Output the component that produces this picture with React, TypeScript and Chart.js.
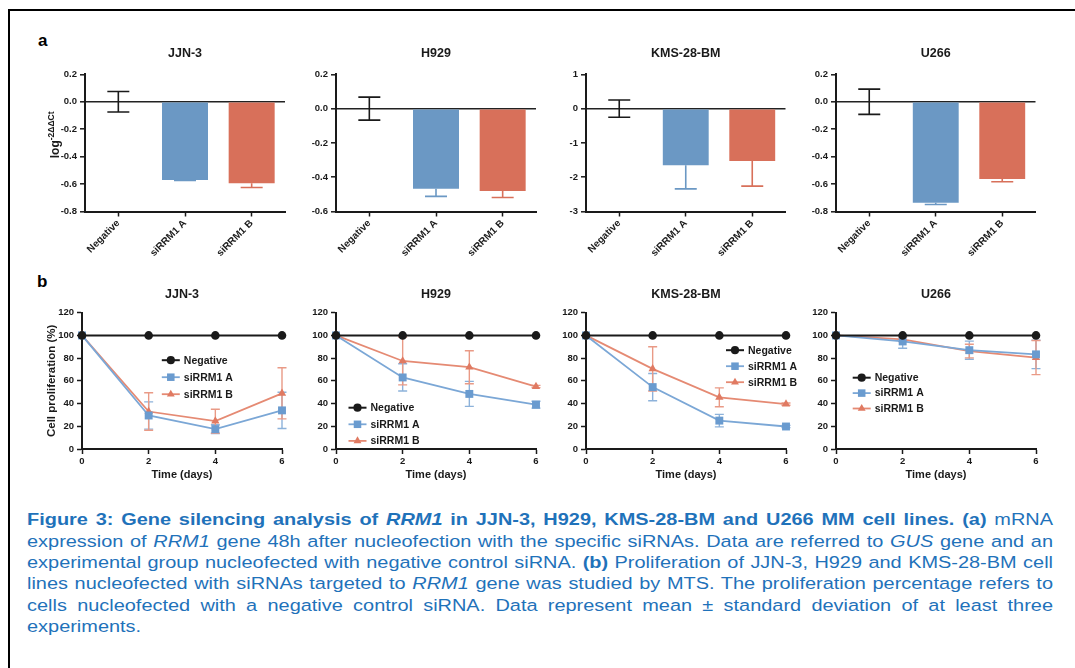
import React, { useEffect, useRef } from 'react';
import { Chart, registerables } from 'chart.js';

Chart.register(...registerables);

const FONT = '"Liberation Sans", Arial, Helvetica, sans-serif';
const INK = '#1a1a1a';
Chart.defaults.font.family = FONT;
Chart.defaults.color = INK;

// ---------------- data ----------------
const cellLines = ['JJN-3', 'H929', 'KMS-28-BM', 'U266'];
const barCategories = ['Negative', 'siRRM1 A', 'siRRM1 B'];
const seriesNames = ['Negative', 'siRRM1 A', 'siRRM1 B'];

// (a) mRNA expression, log -2ΔΔCt (mean, SD)
const mrnaJJN3 = [0, -0.57, -0.595];
const mrnaJJN3Sd = [0.075, 0.003, 0.03];
const mrnaH929 = [0, -0.467, -0.48];
const mrnaH929Sd = [0.067, 0.045, 0.038];
const mrnaKMS = [0, -1.65, -1.53];
const mrnaKMSSd = [0.25, 0.69, 0.73];
const mrnaU266 = [0, -0.737, -0.563];
const mrnaU266Sd = [0.092, 0.012, 0.02];

const mrnaYMin = [-0.8, -0.6, -3, -0.8];
const mrnaYMax = [0.2, 0.2, 1, 0.2];
const mrnaYStep = [0.2, 0.2, 1, 0.2];
const mrnaTickDecimals = [1, 1, 0, 1];

// (b) cell proliferation (%) over days (mean, SD)
const days = [0, 2, 4, 6];
const prolifNegative = [100, 100, 100, 100];
const prolifNegativeSd = [0, 0, 0, 0];

const prolifJJN3A = [100, 29.5, 17.5, 34];
const prolifJJN3ASd = [0, 12, 3.8, 16];
const prolifJJN3B = [100, 33, 24.5, 49];
const prolifJJN3BSd = [0, 16.5, 10.5, 22.5];

const prolifH929A = [100, 63, 48.5, 39];
const prolifH929ASd = [0, 12, 11, 3];
const prolifH929B = [100, 77.5, 72, 55];
const prolifH929BSd = [0, 21, 14.5, 1];

const prolifKMSA = [100, 54.5, 25, 19.8];
const prolifKMSASd = [0, 12, 5.5, 1];
const prolifKMSB = [100, 70.5, 45.5, 39.5];
const prolifKMSBSd = [0, 19.5, 8.3, 1];

const prolifU266A = [100, 94.7, 87, 83.3];
const prolifU266ASd = [0, 6, 8, 12.5];
const prolifU266B = [100, 96.5, 86.2, 80.5];
const prolifU266BSd = [0, 2, 6, 15];

const prolifYMin = 0;
const prolifYMax = 120;
const prolifYStep = 20;
const dayStep = 2;

const mrnaValues = [mrnaJJN3, mrnaH929, mrnaKMS, mrnaU266];
const mrnaSds = [mrnaJJN3Sd, mrnaH929Sd, mrnaKMSSd, mrnaU266Sd];
const prolifA = [prolifJJN3A, prolifH929A, prolifKMSA, prolifU266A];
const prolifASd = [prolifJJN3ASd, prolifH929ASd, prolifKMSASd, prolifU266ASd];
const prolifB = [prolifJJN3B, prolifH929B, prolifKMSB, prolifU266B];
const prolifBSd = [prolifJJN3BSd, prolifH929BSd, prolifKMSBSd, prolifU266BSd];

// ---------------- styles & layout ----------------
const BLUE_BAR = '#6b98c4';
const RED_BAR = '#d8705a';
const BLUE_MARK = '#6a9bcf';
const BLUE_LINE = '#7ba7d6';
const BLUE_ERR = '#8db2da';
const RED_MARK = '#e07a62';
const RED_LINE = '#e58a73';
const RED_ERR = '#e99a86';
const CAPTION = '#1f72ba';

type Box = { x: number; y: number; w: number; h: number };
type Area = { l: number; r: number; t: number; b: number };

// canvases overlap slightly (they are transparent) so legends/labels never clip
const colX = [14, 296, 547, 797];
const colW = [300, 270, 280, 270];
const barBoxes: Box[] = colX.map((x, i) => ({ x, y: 28, w: colW[i], h: 240 }));
const lineBoxes: Box[] = colX.map((x, i) => ({ x, y: 278, w: colW[i], h: 212 }));
const barAreas: Area[] = [
  { l: 85, r: 285, t: 74.3, b: 211.5 },
  { l: 336, r: 536, t: 74.3, b: 211.5 },
  { l: 586, r: 785.5, t: 74.3, b: 211.5 },
  { l: 836, r: 1035.5, t: 74.3, b: 211.5 },
];
const lineAreas: Area[] = [
  { l: 82, r: 282, t: 312.7, b: 449 },
  { l: 336, r: 536, t: 312.7, b: 449 },
  { l: 586, r: 786, t: 312.7, b: 449 },
  { l: 836, r: 1036, t: 312.7, b: 449 },
];
const legendPos = [
  { x: 88.8, y: 47.5, gap: 17 },
  { x: 21.5, y: 95, gap: 16.6 },
  { x: 149, y: 37.5, gap: 16 },
  { x: 25.7, y: 65, gap: 15.4 },
];

// ---------------- plugins ----------------
function drawMarker(ctx: CanvasRenderingContext2D, style: string, x: number, y: number, r: number, color: string) {
  ctx.fillStyle = color;
  ctx.beginPath();
  if (style === 'circle') {
    ctx.arc(x, y, r, 0, Math.PI * 2);
  } else if (style === 'rect') {
    const s = r * Math.SQRT1_2;
    ctx.rect(x - s, y - s, 2 * s, 2 * s);
  } else {
    ctx.moveTo(x, y - r);
    ctx.lineTo(x + r * 0.866, y + r * 0.5);
    ctx.lineTo(x - r * 0.866, y + r * 0.5);
  }
  ctx.closePath();
  ctx.fill();
}

function errorBarPlugin(kind: 'bar' | 'line') {
  const draw = (chart: any) => {
    const { ctx } = chart;
    const yScale = chart.scales.y;
    const cap = kind === 'bar' ? 11 : 4.5;
    ctx.save();
    ctx.lineWidth = kind === 'bar' ? 1.6 : 1.4;
    chart.data.datasets.forEach((ds: any, di: number) => {
      const meta = chart.getDatasetMeta(di);
      meta.data.forEach((el: any, j: number) => {
        const sd = ds.sd ? ds.sd[j] : 0;
        if (!sd) return;
        const raw = ds.data[j];
        const v = typeof raw === 'number' ? raw : raw.y;
        const color = Array.isArray(ds.errColor) ? ds.errColor[j] : ds.errColor;
        const twoSided = kind === 'line' || v === 0;
        let y1: number;
        let y2: number;
        if (twoSided) {
          y1 = yScale.getPixelForValue(v + sd);
          y2 = yScale.getPixelForValue(v - sd);
        } else {
          y1 = yScale.getPixelForValue(v);
          y2 = yScale.getPixelForValue(v + Math.sign(v) * sd);
        }
        const x = el.x;
        ctx.strokeStyle = color;
        ctx.beginPath();
        ctx.moveTo(x, y1);
        ctx.lineTo(x, y2);
        if (twoSided) {
          ctx.moveTo(x - cap, y1);
          ctx.lineTo(x + cap, y1);
        }
        ctx.moveTo(x - cap, y2);
        ctx.lineTo(x + cap, y2);
        ctx.stroke();
      });
    });
    ctx.restore();
  };
  return kind === 'bar'
    ? { id: 'errbars', afterDatasetsDraw: draw }
    : { id: 'errbars', beforeDatasetsDraw: draw };
}

type DecorOpts = {
  title: string;
  titleDy: number;
  xTitle?: string;
  xTitleDy?: number;
  yTitle?: string;
  yTitleSup?: string;
  yTitleDx?: number;
  yTitleDy?: number;
  legend?: { x: number; y: number; gap: number };
};

function decorPlugin(o: DecorOpts) {
  return {
    id: 'decor',
    afterDraw(chart: any) {
      const { ctx, chartArea: a } = chart;
      const cx = (a.left + a.right) / 2;
      ctx.save();
      ctx.fillStyle = INK;
      ctx.textAlign = 'center';
      ctx.textBaseline = 'middle';
      ctx.font = `bold 12.5px ${FONT}`;
      ctx.fillText(o.title, cx, a.top - o.titleDy);
      if (o.xTitle) {
        ctx.font = `bold 11px ${FONT}`;
        ctx.fillText(o.xTitle, cx, a.bottom + (o.xTitleDy || 0));
      }
      if (o.yTitle) {
        ctx.save();
        ctx.translate(a.left + (o.yTitleDx || 0), (a.top + a.bottom) / 2 + (o.yTitleDy || 0));
        ctx.rotate(-Math.PI / 2);
        if (o.yTitleSup) {
          ctx.textAlign = 'left';
          ctx.textBaseline = 'alphabetic';
          ctx.font = `bold 12px ${FONT}`;
          const w1 = ctx.measureText(o.yTitle).width;
          ctx.font = `bold 8.5px ${FONT}`;
          const w2 = ctx.measureText(o.yTitleSup).width;
          const x0 = -(w1 + w2) / 2;
          ctx.font = `bold 12px ${FONT}`;
          ctx.fillText(o.yTitle, x0, 4);
          ctx.font = `bold 8.5px ${FONT}`;
          ctx.fillText(o.yTitleSup, x0 + w1, -1);
        } else {
          ctx.font = `bold 11.5px ${FONT}`;
          ctx.fillText(o.yTitle, 0, 0);
        }
        ctx.restore();
      }
      if (o.legend) {
        const lg = o.legend;
        chart.data.datasets.forEach((ds: any, i: number) => {
          const y = a.top + lg.y + i * lg.gap;
          const mx = a.left + lg.x;
          ctx.strokeStyle = ds.borderColor;
          ctx.lineWidth = ds.borderWidth;
          ctx.beginPath();
          ctx.moveTo(mx - 9, y);
          ctx.lineTo(mx + 9, y);
          ctx.stroke();
          drawMarker(ctx, ds.pointStyle, mx, y, ds.pointRadius * 0.95, ds.pointBackgroundColor);
          ctx.fillStyle = INK;
          ctx.font = `bold 10.5px ${FONT}`;
          ctx.textAlign = 'left';
          ctx.textBaseline = 'middle';
          ctx.fillText(ds.label, mx + 13, y + 0.5);
        });
      }
      ctx.restore();
    },
  };
}

// ---------------- configs ----------------
const tickFont = { family: FONT, size: 9.5, weight: 'bold' as const };

function barConfig(i: number): any {
  const bx = barBoxes[i];
  const ar = barAreas[i];
  const dec = mrnaTickDecimals[i];
  return {
    type: 'bar',
    data: {
      labels: barCategories,
      datasets: [
        {
          data: mrnaValues[i],
          sd: mrnaSds[i],
          errColor: [INK, BLUE_BAR, RED_BAR],
          backgroundColor: ['rgba(0,0,0,0)', BLUE_BAR, RED_BAR],
          borderWidth: 0,
          barPercentage: 0.69,
          categoryPercentage: 1,
        },
      ],
    },
    options: {
      responsive: false,
      animation: false,
      events: [],
      layout: { padding: { top: ar.t - bx.y, right: bx.x + bx.w - ar.r, left: 0, bottom: 0 } },
      plugins: { legend: { display: false }, tooltip: { enabled: false }, title: { display: false } },
      scales: {
        x: {
          type: 'category',
          offset: true,
          grid: { display: true, drawOnChartArea: false, offset: false, tickLength: 5, tickColor: INK, tickWidth: 1.5 },
          border: { display: true, color: INK, width: 2 },
          ticks: { minRotation: 45, maxRotation: 45, autoSkip: false, color: INK, font: { family: FONT, size: 10, weight: 'bold' }, padding: 1 },
          afterFit: (s: any) => {
            s.height = bx.y + bx.h - ar.b;
          },
        },
        y: {
          min: mrnaYMin[i],
          max: mrnaYMax[i],
          ticks: {
            stepSize: mrnaYStep[i],
            color: INK,
            font: tickFont,
            padding: 3,
            callback: (v: any) => Number(v).toFixed(dec),
          },
          grid: {
            color: (c: any) => (c.tick && Math.abs(c.tick.value) < 1e-9 ? '#222' : 'rgba(0,0,0,0)'),
            lineWidth: 1.6,
            tickColor: INK,
            tickLength: 5,
            tickWidth: 1.5,
          },
          border: { display: true, color: INK, width: 2 },
          afterFit: (s: any) => {
            s.width = ar.l - bx.x;
          },
        },
      },
    },
    plugins: [
      errorBarPlugin('bar'),
      decorPlugin({
        title: cellLines[i],
        titleDy: 21,
        yTitle: i === 0 ? 'log' : undefined,
        yTitleSup: i === 0 ? '-2ΔΔCt' : undefined,
        yTitleDx: -30,
        yTitleDy: -8,
      }),
    ],
  };
}

function lineConfig(i: number): any {
  const bx = lineBoxes[i];
  const ar = lineAreas[i];
  const mk = (vals: number[]) => days.map((d, k) => ({ x: d, y: vals[k] }));
  const series = [
    { vals: prolifNegative, sd: prolifNegativeSd, mark: INK, line: INK, err: INK, style: 'circle', r: 4.3, bw: 2 },
    { vals: prolifA[i], sd: prolifASd[i], mark: BLUE_MARK, line: BLUE_LINE, err: BLUE_ERR, style: 'rect', r: 5.6, bw: 1.8 },
    { vals: prolifB[i], sd: prolifBSd[i], mark: RED_MARK, line: RED_LINE, err: RED_ERR, style: 'triangle', r: 4.8, bw: 1.8 },
  ];
  return {
    type: 'line',
    data: {
      datasets: series.map((s, k) => ({
        label: seriesNames[k],
        data: mk(s.vals),
        sd: s.sd,
        errColor: s.err,
        borderColor: s.line,
        backgroundColor: s.mark,
        pointBackgroundColor: s.mark,
        pointBorderColor: s.mark,
        pointBorderWidth: 0,
        pointStyle: s.style,
        pointRadius: s.r,
        borderWidth: s.bw,
        tension: 0,
        clip: false,
      })),
    },
    options: {
      responsive: false,
      animation: false,
      events: [],
      layout: { padding: { top: ar.t - bx.y, right: bx.x + bx.w - ar.r, left: 0, bottom: 0 } },
      plugins: { legend: { display: false }, tooltip: { enabled: false }, title: { display: false } },
      scales: {
        x: {
          type: 'linear',
          min: days[0],
          max: days[days.length - 1],
          ticks: { stepSize: dayStep, color: INK, font: tickFont, padding: 2 },
          grid: { display: true, drawOnChartArea: false, tickLength: 5, tickColor: INK, tickWidth: 1.5 },
          border: { display: true, color: INK, width: 2 },
          afterFit: (s: any) => {
            s.height = bx.y + bx.h - ar.b;
          },
        },
        y: {
          min: prolifYMin,
          max: prolifYMax,
          ticks: { stepSize: prolifYStep, color: INK, font: tickFont, padding: 3 },
          grid: { display: true, drawOnChartArea: false, tickLength: 5, tickColor: INK, tickWidth: 1.5 },
          border: { display: true, color: INK, width: 2 },
          afterFit: (s: any) => {
            s.width = ar.l - bx.x;
          },
        },
      },
    },
    plugins: [
      errorBarPlugin('line'),
      decorPlugin({
        title: cellLines[i],
        titleDy: 18,
        xTitle: 'Time (days)',
        xTitleDy: 26,
        yTitle: i === 0 ? 'Cell proliferation (%)' : undefined,
        yTitleDx: -30,
        yTitleDy: 0,
        legend: legendPos[i],
      }),
    ],
  };
}

// ---------------- components ----------------
function ChartCanvas({ box, build }: { box: Box; build: () => any }) {
  const ref = useRef<HTMLCanvasElement>(null);
  useEffect(() => {
    if (!ref.current) return;
    const chart = new Chart(ref.current, build());
    return () => chart.destroy();
  }, []);
  return (
    <canvas
      ref={ref}
      width={box.w}
      height={box.h}
      style={{ position: 'absolute', left: box.x, top: box.y, width: box.w, height: box.h }}
    />
  );
}

const captionLines: React.ReactNode[] = [
  <>
    <b>
      Figure 3: Gene silencing analysis of <i>RRM1</i> in JJN-3, H929, KMS-28-BM and U266 MM cell lines. (a)
    </b>{' '}
    mRNA
  </>,
  <>
    expression of <i>RRM1</i> gene 48h after nucleofection with the specific siRNAs. Data are referred to <i>GUS</i> gene and an
  </>,
  <>
    experimental group nucleofected with negative control siRNA. <b>(b)</b> Proliferation of JJN-3, H929 and KMS-28-BM cell
  </>,
  <>
    lines nucleofected with siRNAs targeted to <i>RRM1</i> gene was studied by MTS. The proliferation percentage refers to
  </>,
  <>cells nucleofected with a negative control siRNA. Data represent mean ± standard deviation of at least three</>,
  <>experiments.</>,
];

const CAP_SX = 1.18;
const CAP_LEFT = 27;
const CAP_RIGHT = 1053;

export default function App() {
  return (
    <div
      style={{
        position: 'absolute',
        left: 0,
        top: 0,
        width: 1075,
        height: 668,
        background: '#fff',
        overflow: 'hidden',
        fontFamily: FONT,
      }}
    >
      <div
        style={{
          position: 'absolute',
          left: 8,
          top: 9,
          width: 1200,
          height: 800,
          borderTop: '2px solid #000',
          borderLeft: '2px solid #000',
        }}
      />
      <div style={{ position: 'absolute', left: 38, top: 31.6, font: `bold 17px ${FONT}`, lineHeight: 1, color: '#000' }}>a</div>
      <div style={{ position: 'absolute', left: 37, top: 272.6, font: `bold 17px ${FONT}`, lineHeight: 1, color: '#000' }}>b</div>
      {cellLines.map((_, i) => (
        <ChartCanvas key={'a' + i} box={barBoxes[i]} build={() => barConfig(i)} />
      ))}
      {cellLines.map((_, i) => (
        <ChartCanvas key={'b' + i} box={lineBoxes[i]} build={() => lineConfig(i)} />
      ))}
      {captionLines.map((line, k) => (
        <div
          key={'c' + k}
          style={{
            position: 'absolute',
            left: CAP_LEFT,
            top: 509.3 + k * 21.3,
            width: (CAP_RIGHT - CAP_LEFT) / CAP_SX,
            fontFamily: FONT,
            fontSize: 16.9,
            lineHeight: '21.3px',
            color: CAPTION,
            textAlign: 'justify',
            textAlignLast: k === captionLines.length - 1 ? 'left' : 'justify',
            transform: `scaleX(${CAP_SX})`,
            transformOrigin: 'left top',
          }}
        >
          {line}
        </div>
      ))}
    </div>
  );
}
